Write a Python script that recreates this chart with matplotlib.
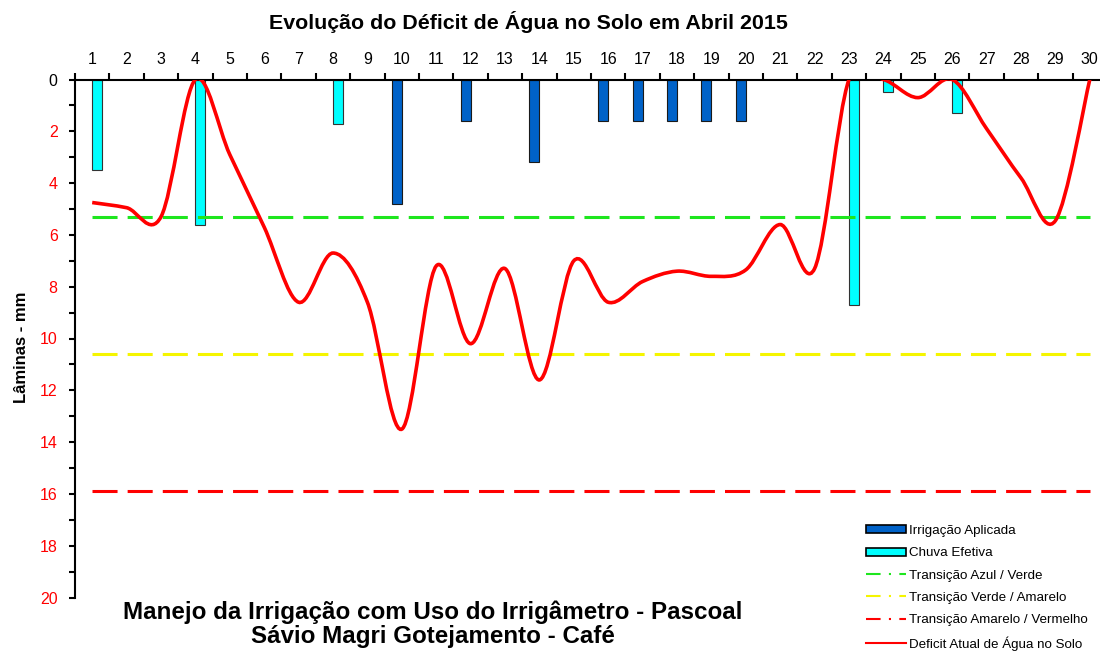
#!/usr/bin/env python3
"""Soil water deficit for April 2015 (irrigation with the Irrigâmetro)."""
import matplotlib

matplotlib.use("Agg")
import matplotlib.pyplot as plt
from matplotlib.lines import Line2D
from matplotlib.patches import Patch, PathPatch
from matplotlib.path import Path
import numpy as np

plt.rcParams.update({
    "font.family": ["Liberation Sans", "DejaVu Sans"],
    "axes.linewidth": 1.5,
})

# Data (mm, per day of April)
DAYS = list(range(1, 31))
DEFICIT = [4.75, 4.95, 5.3, 0.0, 2.9, 5.7, 8.6, 6.7, 8.6, 13.5,
           7.2, 10.2, 7.3, 11.6, 7.0, 8.6, 7.8, 7.4, 7.6, 7.35,
           5.6, 7.3, 0.0, 0.0, 0.7, 0.0, 1.9, 3.8, 5.45, 0.0]
IRRIG_DAYS = [10, 12, 14, 16, 17, 18, 19, 20]
IRRIG_MM = [4.8, 1.6, 3.2, 1.6, 1.6, 1.6, 1.6, 1.6]
RAIN_DAYS = [1, 4, 8, 23, 24, 26]
RAIN_MM = [3.5, 5.6, 1.7, 8.7, 0.5, 1.3]
T_AZUL_VERDE = 5.3
T_VERDE_AMARELO = 10.6
T_AMARELO_VERMELHO = 15.9

BLUE = "#0062C8"
CYAN = "#00FFFF"
GREEN = "#1EE61E"
YELLOW = "#F5F500"
RED = "#FF0000"


def smooth_path(xs, ys, t=1.0 / 6.0):
    """Excel-like smoothed line: cubic Bezier segments through every point."""
    xs = np.asarray(xs, float)
    ys = np.asarray(ys, float)
    n = len(xs)
    verts = [(xs[0], ys[0])]
    codes = [Path.MOVETO]
    for i in range(n - 1):
        p0 = i - 1 if i > 0 else i
        p3 = i + 2 if i + 2 < n else i + 1
        c1 = (xs[i] + (xs[i + 1] - xs[p0]) * t, ys[i] + (ys[i + 1] - ys[p0]) * t)
        c2 = (xs[i + 1] - (xs[p3] - xs[i]) * t, ys[i + 1] - (ys[p3] - ys[i]) * t)
        verts += [c1, c2, (xs[i + 1], ys[i + 1])]
        codes += [Path.CURVE4] * 3
    return Path(verts, codes)


fig = plt.figure(figsize=(11.0, 6.56), dpi=100)
ax = fig.add_axes([75 / 1100, 1 - 597.5 / 656, 1032 / 1100, 518 / 656])

bw = 0.29
ax.bar(np.array(IRRIG_DAYS) - bw / 2, IRRIG_MM, width=bw, color=BLUE,
       edgecolor="#1a1a1a", linewidth=0.8, zorder=2)
ax.bar(np.array(RAIN_DAYS) + bw / 2, RAIN_MM, width=bw, color=CYAN,
       edgecolor="#333333", linewidth=0.8, zorder=2)

for val, col in [(T_AZUL_VERDE, GREEN), (T_VERDE_AMARELO, YELLOW),
                 (T_AMARELO_VERMELHO, RED)]:
    ax.plot(DAYS, [val] * len(DAYS), color=col, linewidth=2.2,
            linestyle=(0, (8.2, 3.3)), zorder=3)

ax.add_patch(PathPatch(smooth_path(DAYS, DEFICIT), facecolor="none",
                       edgecolor=RED, linewidth=2.6, zorder=4))

ax.set_xlim(0.5, 30.5)
ax.set_ylim(20, 0)

ax.xaxis.tick_top()
ax.set_xticks(np.arange(0.5, 31, 1))
ax.set_xticklabels([])
ax.set_xticks(DAYS, minor=True)
ax.set_xticklabels([str(d) for d in DAYS], minor=True, fontsize=11.5)
ax.tick_params(axis="x", which="major", length=5, width=1.5, direction="out")
ax.tick_params(axis="x", which="minor", length=0, pad=9)

ax.set_yticks(np.arange(0, 21, 2))
ax.set_yticks(np.arange(0, 21, 1), minor=True)
ax.set_yticklabels([str(v) for v in range(0, 21, 2)], fontsize=11.5)
for i, lbl in enumerate(ax.get_yticklabels()):
    lbl.set_color("black" if i == 0 else RED)
ax.tick_params(axis="y", which="both", length=4.5, width=1.5,
               direction="out", pad=8)

ax.spines["bottom"].set_visible(False)
ax.spines["right"].set_visible(False)

fig.text(22 / 1100, 1 - 347 / 656, "Lâminas - mm", rotation=90,
         ha="center", va="center", fontsize=12, fontweight="bold")
fig.text(528 / 1100, 1 - 22 / 656,
         "Evolução do Déficit de Água no Solo em Abril 2015",
         ha="center", va="center", fontsize=15.4, fontweight="bold")
fig.text(433 / 1100, 1 - 624 / 656,
         "Manejo da Irrigação com Uso do Irrigâmetro - Pascoal\n"
         "Sávio Magri Gotejamento - Café",
         ha="center", va="center", fontsize=17.4, fontweight="bold",
         linespacing=1.05)

handles = [
    Patch(facecolor=BLUE, edgecolor="black", linewidth=1.2,
          label="Irrigação Aplicada"),
    Patch(facecolor=CYAN, edgecolor="black", linewidth=1.2,
          label="Chuva Efetiva"),
    Line2D([0], [0], color=GREEN, linewidth=1.5, linestyle=(0, (7, 4, 1, 4)),
           label="Transição Azul / Verde"),
    Line2D([0], [0], color=YELLOW, linewidth=1.5, linestyle=(0, (7, 4, 1, 4)),
           label="Transição Verde / Amarelo"),
    Line2D([0], [0], color=RED, linewidth=1.5, linestyle=(0, (7, 4, 1, 4)),
           label="Transição Amarelo / Vermelho"),
    Line2D([0], [0], color=RED, linewidth=1.5, label="Deficit Atual de Água no Solo"),
]
fig.legend(handles=handles, loc="upper left",
           bbox_to_anchor=(866 / 1100, 1 - 525 / 656), frameon=False,
           fontsize=9.6, labelspacing=0.77, handlelength=3.0,
           handleheight=0.55, handletextpad=0.25, borderpad=0, borderaxespad=0)

fig.savefig("out.png", dpi=100)
